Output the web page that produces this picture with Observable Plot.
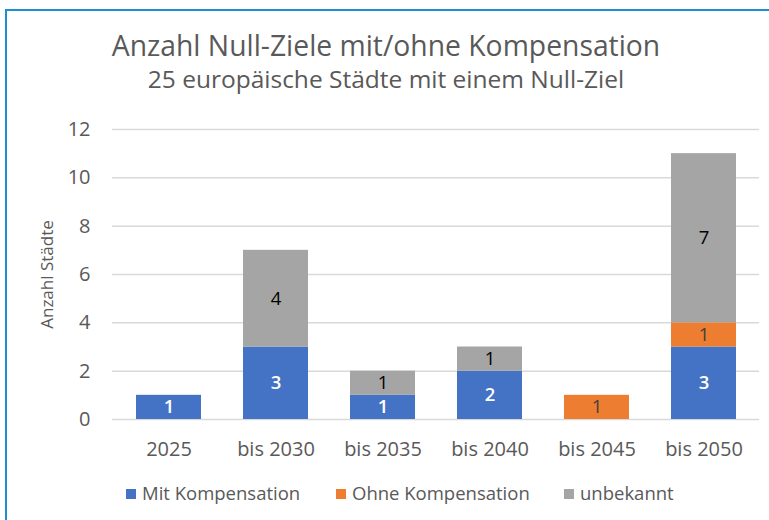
<!DOCTYPE html>
<html><head><meta charset="utf-8">
<script src="https://cdn.jsdelivr.net/npm/d3@7"></script>
<script src="https://cdn.jsdelivr.net/npm/@observablehq/plot@0.6"></script>
<style>
html,body{margin:0;padding:0;background:#fff;}
#wrap{position:relative;width:769px;height:520px;overflow:hidden;font-family:"Open Sans",sans-serif;color:#595959;}
#frame{position:absolute;left:5px;top:9px;width:800px;height:600px;border:2px solid #1B8FD2;box-sizing:border-box;}
.t{position:absolute;left:0;width:772px;text-align:center;white-space:nowrap;}
#title{top:26px;font-size:28.3px;}
#sub{top:62px;font-size:24.5px;}
#legend{position:absolute;top:480px;left:0;width:769px;font-size:18.5px;}
.li{position:absolute;top:0;white-space:nowrap;}
.sw{display:inline-block;width:10px;height:10px;margin-right:6px;vertical-align:1px;}
#chart{position:absolute;left:0;top:0;}
</style></head>
<body><div id="wrap"><div id="frame"></div><div id="chart"></div>
<div class="t" id="title">Anzahl Null-Ziele mit/ohne Kompensation</div>
<div class="t" id="sub">25 europäische Städte mit einem Null-Ziel</div>
<div id="legend"></div></div>
<script>
const categories = ["2025", "bis 2030", "bis 2035", "bis 2040", "bis 2045", "bis 2050"];
const seriesNames = ["Mit Kompensation", "Ohne Kompensation", "unbekannt"];
const mitKompensation = [1, 3, 1, 2, 0, 3];
const ohneKompensation = [0, 0, 0, 0, 1, 1];
const unbekannt = [0, 4, 1, 1, 0, 7];
const yTicks = [0, 2, 4, 6, 8, 10, 12];
const colors = ["#4472C4", "#ED7D31", "#A5A5A5"];
const labelColors = ["#FFFFFF", "#404040", "#000000"];
const labelWeights = [600, 500, 400];

const seriesValues = [mitKompensation, ohneKompensation, unbekannt];
const data = [];
categories.forEach((c, i) => seriesNames.forEach((s, j) => {
  data.push({cat: c, series: s, value: seriesValues[j][i], idx: j});
}));

const plot = Plot.plot({
  width: 769, height: 520,
  marginTop: 129, marginBottom: 101, marginLeft: 112, marginRight: 10,
  style: {fontFamily: "Open Sans, sans-serif", fontSize: "20px", color: "#595959", background: "transparent", overflow: "visible"},
  x: {domain: categories, paddingInner: 0.396, paddingOuter: 0.2, label: null},
  y: {domain: [0, 12], ticks: yTicks, label: null},
  color: {domain: seriesNames, range: colors},
  marks: [
    Plot.gridY(yTicks, {stroke: "#D9D9D9", strokeOpacity: 1, strokeWidth: 1.5}),
    Plot.barY(data, Plot.stackY({x: "cat", y: "value", z: "series", fill: "series", order: seriesNames})),
    ...labelColors.map((col, j) =>
      Plot.text(data, Plot.filter(d => d.idx === j && d.value > 0,
        Plot.stackY({x: "cat", y: "value", z: "series", order: seriesNames, text: "value",
          fill: col, fontSize: 18.5, fontWeight: labelWeights[j]})))
    ),
    Plot.axisX({tickSize: 0, tickPadding: 22, fontSize: 20}),
    Plot.axisY({ticks: yTicks, tickSize: 0, tickPadding: 22, fontSize: 20}),
    Plot.text(["Anzahl Städte"], {frameAnchor: "left", dx: -65, rotate: -90, textAnchor: "middle", fontSize: 17, fill: "#595959"})
  ]
});
document.getElementById("chart").appendChild(plot);

const legendPos = [126, 336, 564];
const leg = document.getElementById("legend");
seriesNames.forEach((s, j) => {
  const el = document.createElement("div");
  el.className = "li";
  el.style.left = legendPos[j] + "px";
  el.innerHTML = `<span class="sw" style="background:${colors[j]}"></span>${s}`;
  leg.appendChild(el);
});
</script></body></html>
